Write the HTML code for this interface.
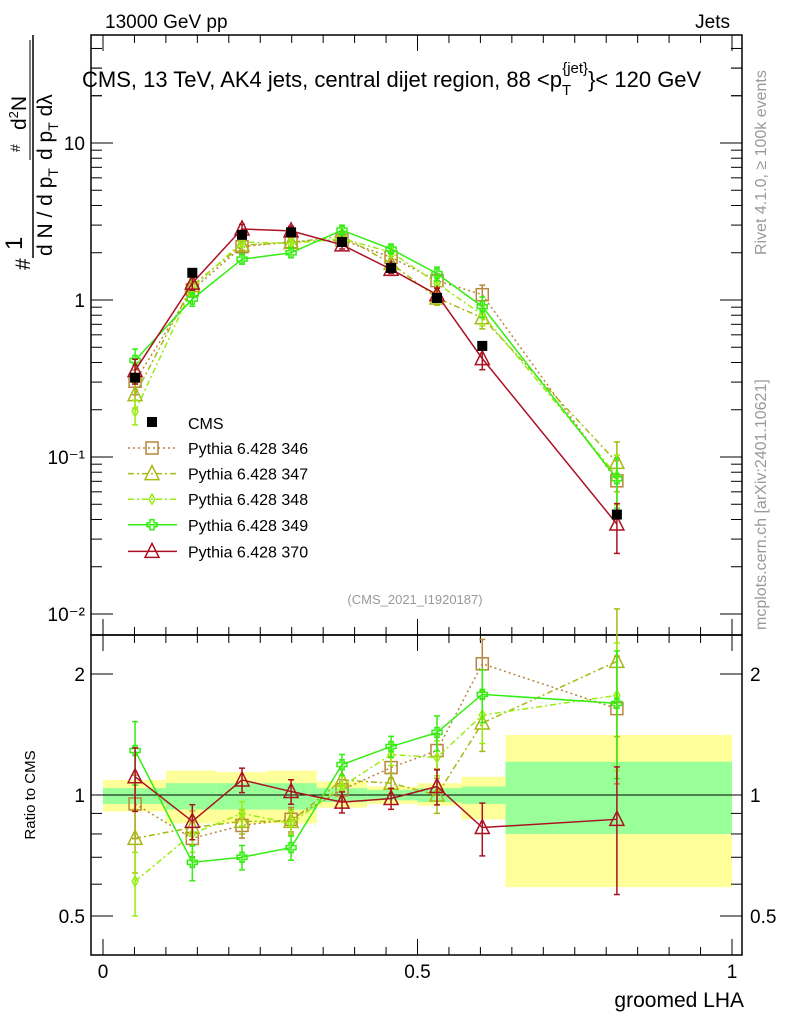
<!DOCTYPE html>
<html><head><meta charset="utf-8"><style>
html,body{margin:0;padding:0;background:#fff}
svg{display:block;font-family:"Liberation Sans",sans-serif}
</style></head><body>
<svg id="chart" width="786" height="1024" viewBox="0 0 786 1024"></svg>
<script>
const xCenters=[0.051,0.142,0.221,0.299,0.380,0.458,0.531,0.603,0.817];
const binEdges=[0,0.1,0.18,0.26,0.34,0.42,0.5,0.57,0.64,1.0];
const cmsValues=[0.32,1.49,2.6,2.7,2.34,1.6,1.03,0.51,0.043];
const bandYellowUp=[1.09,1.15,1.14,1.15,1.08,1.05,1.07,1.11,1.41];
const bandYellowDn=[0.91,0.85,0.85,0.85,0.93,0.95,0.94,0.87,0.59];
const bandGreenUp=[1.04,1.07,1.07,1.07,1.04,1.03,1.04,1.05,1.21];
const bandGreenDn=[0.95,0.92,0.92,0.92,0.96,0.97,0.96,0.95,0.80];
const ratio346=[0.95,0.78,0.84,0.87,1.03,1.17,1.29,2.12,1.64];
const ratio347=[0.78,0.83,0.86,0.86,1.09,1.07,1.0,1.51,2.15];
const ratio348=[0.61,0.80,0.90,0.85,1.05,1.26,1.24,1.58,1.77];
const ratio349=[1.29,0.68,0.70,0.74,1.19,1.32,1.43,1.78,1.69];
const ratio370=[1.11,0.86,1.09,1.02,0.96,0.98,1.05,0.83,0.87];
const relErr=[0.18,0.1,0.07,0.07,0.06,0.06,0.1,0.15,0.35];
const seriesNames=["Pythia 6.428 346","Pythia 6.428 347","Pythia 6.428 348","Pythia 6.428 349","Pythia 6.428 370"];
const seriesColors=["#b8863c","#a8b814","#99ee11","#33ee11","#aa1122"];
const seriesDash=["2,3","6,3,2,3","6,3,2,3","",""];
const seriesMarker=["square","triangle","diamond","cross","triangle"];
const seriesRatios=[ratio346,ratio347,ratio348,ratio349,ratio370];
const xTicks=[0,0.5,1];
const yMainTicks=[0.01,0.1,1,10];
const yMainLabels=["10\u207B\u00B2","10\u207B\u00B9","1","10"];
const yRatioTicks=[0.5,1,2];

const NS="http://www.w3.org/2000/svg";
const svg=document.getElementById('chart');
function el(t,a,p){const e=document.createElementNS(NS,t);for(const k in a)e.setAttribute(k,a[k]);(p||svg).appendChild(e);return e;}
const L=91,R=742,MT=35,MB=635,RB=955;
const X=v=>103+629*v;
const YM=v=>300-157*Math.log10(v);
const YR=v=>795-402*Math.log10(v);

for(let i=0;i<xCenters.length;i++){
  const b=el('rect',{x:X(binEdges[i]),y:YR(bandYellowUp[i]),width:X(binEdges[i+1])-X(binEdges[i]),height:YR(bandYellowDn[i])-YR(bandYellowUp[i]),fill:'#ffff99'});
  
  
  const g=el('rect',{x:X(binEdges[i]),y:YR(bandGreenUp[i]),width:X(binEdges[i+1])-X(binEdges[i]),height:YR(bandGreenDn[i])-YR(bandGreenUp[i]),fill:'#99ff99'});
  
  
}
el('line',{x1:L,x2:R,y1:YR(1),y2:YR(1),stroke:'#000','stroke-width':1});

const f1=el('rect',{x:L,y:MT,width:R-L,height:MB-MT,fill:'none',stroke:'#000','stroke-width':1.5});

const f2=el('rect',{x:L,y:MB,width:R-L,height:RB-MB,fill:'none',stroke:'#000','stroke-width':1.5});


for(let k=0;k<=20;k++){const v=k*0.05;const maj=(k%10==0);const len=maj?16:8;const x=X(v);
  el('line',{x1:x,x2:x,y1:MT,y2:MT+len,stroke:'#000'});
  el('line',{x1:x,x2:x,y1:MB,y2:MB-len,stroke:'#000'});
  el('line',{x1:x,x2:x,y1:MB,y2:MB+len,stroke:'#000'});
  el('line',{x1:x,x2:x,y1:RB,y2:RB-len,stroke:'#000'});}
xTicks.forEach(v=>{const t=el('text',{x:X(v),y:978,'font-size':19,'text-anchor':'middle'});t.textContent=String(v);
  });
for(let d=-2;d<=1;d++){for(let m=1;m<=9;m++){const v=m*Math.pow(10,d);const y=YM(v);if(y<MT||y>MB)continue;const len=m==1?22:11;
  el('line',{x1:L,x2:L+len,y1:y,y2:y,stroke:'#000'});el('line',{x1:R,x2:R-len,y1:y,y2:y,stroke:'#000'});}}
[20,30,40].forEach(v=>{const y=YM(v);if(y>MT){el('line',{x1:L,x2:L+11,y1:y,y2:y,stroke:'#000'});el('line',{x1:R,x2:R-11,y1:y,y2:y,stroke:'#000'});}});
yMainTicks.forEach((v,i)=>{const t=el('text',{x:L-6,y:YM(v)+7,'font-size':19,'text-anchor':'end'});t.textContent=yMainLabels[i];
  });
[0.4,0.5,0.6,0.7,0.8,0.9,1,2].forEach(v=>{const y=YR(v);const maj=(v==0.5||v==1||v==2);const len=maj?22:11;
  el('line',{x1:L,x2:L+len,y1:y,y2:y,stroke:'#000'});el('line',{x1:R,x2:R-len,y1:y,y2:y,stroke:'#000'});});
yRatioTicks.forEach(v=>{const t=el('text',{x:L-6,y:YR(v)+7,'font-size':19,'text-anchor':'end'});t.textContent=String(v);
  
  const t2=el('text',{x:R+8,y:YR(v)+7,'font-size':19});t2.textContent=String(v);
  });

function marker(type,x,y,c,g){
  const s=6;
  if(type=='square')return el('rect',{x:x-s,y:y-s,width:2*s,height:2*s,fill:'none',stroke:c,'stroke-width':1.5},g);
  if(type=='triangle')return el('polygon',{points:`${x},${y-8} ${x-7},${y+6} ${x+7},${y+6}`,fill:'none',stroke:c,'stroke-width':1.5},g);
  if(type=='diamond')return el('polygon',{points:`${x},${y-5} ${x-3},${y} ${x},${y+5} ${x+3},${y}`,fill:'none',stroke:c,'stroke-width':1.5},g);
  return el('path',{d:`M${x-2},${y-5}h4v3h3v4h-3v3h-4v-3h-3v-4h3z`,fill:'none',stroke:c,'stroke-width':1.5},g);
}
seriesRatios.forEach((rat,si)=>{
  const c=seriesColors[si];
  const g=el('g',{});
  
  
  const ptsM=rat.map((r,i)=>`${X(xCenters[i])},${YM(r*cmsValues[i])}`).join(' ');
  const ptsR=rat.map((r,i)=>`${X(xCenters[i])},${YR(r)}`).join(' ');
  const la={fill:'none',stroke:c,'stroke-width':1.5};if(seriesDash[si])la['stroke-dasharray']=seriesDash[si];
  el('polyline',Object.assign({points:ptsM},la),g);
  el('polyline',Object.assign({points:ptsR},la),g);
  rat.forEach((r,i)=>{const x=X(xCenters[i]);const v=r*cmsValues[i];const e=relErr[i];
    [[YM(v*(1+e)),YM(v*(1-e))],[YR(r*(1+e)),YR(r*(1-e))]].forEach(([a,b])=>{
      el('line',{x1:x,x2:x,y1:a,y2:b,stroke:c,'stroke-width':1.5},g);
      el('line',{x1:x-3,x2:x+3,y1:a,y2:a,stroke:c,'stroke-width':1.5},g);
      el('line',{x1:x-3,x2:x+3,y1:b,y2:b,stroke:c,'stroke-width':1.5},g);});
    marker(seriesMarker[si],x,YM(v),c,g);marker(seriesMarker[si],x,YR(r),c,g);});
});
cmsValues.forEach((v,i)=>{const r=el('rect',{x:X(xCenters[i])-5,y:YM(v)-5,width:10,height:10,fill:'#000'});
  });

const lg=el('g',{});
el('rect',{x:147,y:417,width:10,height:10,fill:'#000'},lg);
let t=el('text',{x:188,y:429,'font-size':16},lg);t.textContent='CMS';
seriesNames.forEach((n,si)=>{const y=448+25.6*si+(si==4?1:0);const c=seriesColors[si];
  const la={x1:128,x2:177,y1:y,y2:y,stroke:c,'stroke-width':1.5};if(seriesDash[si])la['stroke-dasharray']=seriesDash[si];
  el('line',la,lg);marker(seriesMarker[si],152,y,c,lg);
  const tt=el('text',{x:188,y:y+6,'font-size':16},lg);tt.textContent=n;
  });
</script>
<svg width="786" height="1024" style="position:absolute;left:0;top:0">
<text x="105" y="28" font-family="Liberation Sans" font-size="19">13000 GeV pp</text>
<text x="730" y="28" font-family="Liberation Sans" font-size="19" text-anchor="end">Jets</text>
<text x="82" y="87" font-family="Liberation Sans" font-size="22">CMS, 13 TeV, AK4 jets, central dijet region, 88 &lt;p<tspan font-size="15" dy="8">T</tspan><tspan font-size="15" dx="-9" dy="-22">{jet}</tspan><tspan dy="14">}&lt; 120 GeV</tspan></text>
<g transform="translate(30,270) rotate(-90)" font-family="Liberation Sans" font-size="21">
<text x="0" y="0">#</text>
<text x="20" y="-8" font-size="24">1</text>
<line x1="12" x2="235" y1="3" y2="3" stroke="#000" stroke-width="1.5"/>
<text x="14" y="22">d N / d p<tspan font-size="14" dy="6">T</tspan></text>
<text x="118" y="-10" font-size="14">#</text>
<text x="140" y="-4">d<tspan font-size="13" dy="-8">2</tspan><tspan dy="8">N</tspan></text>
<line x1="110" x2="230" y1="0" y2="0" stroke="#000"/>
<text x="110" y="22">d p<tspan font-size="14" dy="6">T</tspan><tspan dy="-6"> d</tspan>λ</text>
</g>
<text transform="translate(35,795) rotate(-90)" font-family="Liberation Sans" font-size="15" text-anchor="middle">Ratio to CMS</text>
<text x="744" y="1007" font-family="Liberation Sans" font-size="21" text-anchor="end">groomed LHA</text>
<text x="415" y="604" font-family="Liberation Sans" font-size="13" fill="#999" text-anchor="middle">(CMS_2021_I1920187)</text>
<text transform="translate(766,255) rotate(-90)" font-family="Liberation Sans" font-size="16" fill="#999">Rivet 4.1.0, ≥ 100k events</text>
<text transform="translate(766,630) rotate(-90)" font-family="Liberation Sans" font-size="16" fill="#999">mcplots.cern.ch [arXiv:2401.10621]</text>
</svg>
</body></html>
